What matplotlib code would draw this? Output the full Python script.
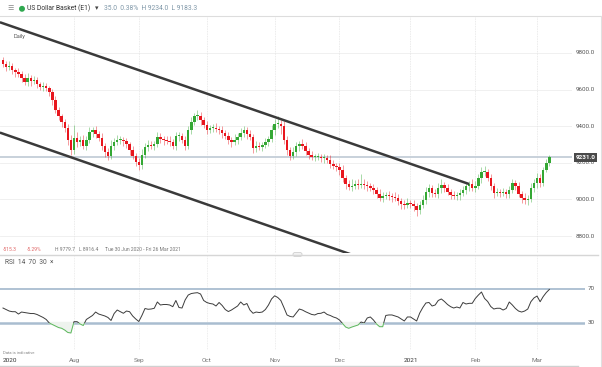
import matplotlib.pyplot as plt
import numpy as np
import pandas as pd
from matplotlib.lines import Line2D
from matplotlib.patches import Rectangle, FancyBboxPatch, Ellipse

plt.rcParams['font.family'] = ['Roboto', 'DejaVu Sans']

# --- data (daily bars from 1 Jul 2020) ---
start_date = "2020-07-01"
first_open = 9760

closes = [
    9740, 9723, 9729, 9707, 9696, 9685, 9663, 9642, 9663, 9647, 9652, 9631, 9614, 9620, 9609, 9587, 9543, 9489, 9456, 9423,
    9390, 9325, 9270, 9336, 9314, 9325, 9292, 9325, 9368, 9379, 9357, 9336, 9292, 9259, 9237, 9292, 9314, 9325, 9325, 9319,
    9303, 9270, 9237, 9204, 9188, 9243, 9286, 9297, 9292, 9303, 9341, 9330, 9325, 9319, 9314, 9292, 9346, 9346, 9325, 9292,
    9379, 9423, 9456, 9456, 9434, 9407, 9379, 9390, 9390, 9385, 9379, 9363, 9346, 9325, 9314, 9325, 9341, 9363, 9379, 9357,
    9341, 9281, 9292, 9286, 9297, 9314, 9330, 9379, 9412, 9412, 9401, 9325, 9270, 9237, 9259, 9292, 9303, 9292, 9265, 9243,
    9232, 9232, 9232, 9226, 9226, 9215, 9194, 9183, 9177, 9161, 9117, 9084, 9068, 9073, 9084, 9079, 9084, 9079, 9073, 9062,
    9051, 9030, 9008, 9019, 9024, 9019, 9013, 9008, 8991, 8975, 8969, 8980, 8975, 8964, 8942, 8969, 8997, 9040, 9062, 9035,
    9030, 9062, 9079, 9062, 9040, 9024, 9019, 9024, 9035, 9051, 9073, 9084, 9062, 9073, 9117, 9150, 9150, 9117, 9073, 9035,
    9040, 9035, 9040, 9030, 9051, 9090, 9073, 9030, 9008, 8997, 9002, 9062, 9090, 9117, 9090, 9161, 9199, 9231,
]

wick_up = [
    20, 15, 25, 15, 10, 20, 15, 20, 25, 15, 20, 15, 10, 20, 15, 10, 15, 20, 15, 10,
    15, 20, 25, 70, 30, 20, 25, 20, 30, 15, 20, 15, 25, 15, 20, 30, 20, 25, 20, 15,
    15, 10, 20, 15, 25, 35, 20, 30, 20, 15, 30, 20, 15, 20, 25, 15, 25, 20, 15, 20,
    20, 25, 15, 30, 20, 15, 20, 15, 20, 25, 15, 20, 15, 20, 15, 30, 20, 25, 20, 15,
    20, 15, 25, 20, 15, 20, 15, 25, 30, 45, 20, 25, 20, 15, 30, 20, 15, 25, 20, 15,
    20, 15, 20, 15, 20, 15, 25, 20, 15, 20, 25, 15, 20, 40, 20, 30, 55, 25, 20, 15,
    20, 15, 25, 20, 15, 20, 15, 25, 20, 15, 20, 25, 15, 20, 15, 20, 25, 30, 20, 15,
    20, 25, 30, 15, 20, 15, 20, 15, 20, 25, 20, 15, 30, 25, 20, 25, 30, 15, 20, 15,
    20, 15, 20, 15, 25, 20, 15, 20, 15, 25, 20, 25, 20, 30, 20, 15, 20, 10,
]

wick_down = [
    15, 20, 15, 20, 25, 15, 20, 15, 20, 25, 15, 20, 15, 20, 15, 20, 25, 15, 20, 25,
    20, 25, 30, 20, 25, 20, 15, 20, 15, 25, 20, 15, 20, 25, 20, 15, 20, 15, 20, 25,
    20, 25, 15, 20, 30, 20, 15, 20, 15, 20, 15, 20, 25, 15, 20, 15, 20, 25, 15, 20,
    15, 20, 15, 20, 25, 15, 20, 15, 20, 15, 20, 25, 15, 20, 30, 15, 20, 15, 20, 25,
    15, 25, 20, 15, 20, 15, 20, 15, 25, 20, 45, 20, 25, 20, 15, 20, 25, 15, 20, 20,
    15, 20, 15, 20, 25, 15, 20, 15, 20, 25, 20, 25, 15, 20, 15, 20, 15, 20, 25, 15,
    20, 25, 15, 20, 15, 20, 25, 15, 20, 25, 20, 15, 20, 25, 30, 20, 15, 20, 25, 20,
    15, 20, 25, 20, 15, 20, 15, 20, 25, 15, 20, 25, 15, 20, 15, 25, 20, 15, 20, 25,
    15, 20, 15, 20, 25, 15, 20, 15, 25, 20, 30, 15, 20, 25, 20, 15, 10, 15,
]

rsi = [
    47.3, 45.5, 43.7, 42.9, 42.9, 40.1, 42.5, 41.9, 41.3, 40.7, 40.7, 39.6, 37.8, 36.0, 33.6, 29.4, 27.6, 25.8, 24.0, 23.1,
    21.0, 18.1, 17.5, 31.0, 31.0, 28.2, 26.4, 33.6, 36.0, 38.4, 42.5, 40.1, 39.0, 37.8, 36.0, 32.4, 40.7, 44.9, 42.9, 41.0,
    43.7, 42.9, 37.8, 34.2, 31.2, 38.4, 46.7, 45.8, 46.1, 47.0, 54.5, 50.9, 51.5, 51.5, 50.9, 48.9, 56.3, 47.9, 47.3, 56.9,
    62.8, 64.6, 65.2, 65.6, 64.0, 56.3, 53.9, 52.7, 52.1, 49.7, 53.9, 50.3, 45.5, 43.1, 44.9, 47.3, 49.7, 54.5, 50.9, 52.7,
    44.9, 41.0, 42.5, 41.9, 42.5, 45.5, 50.9, 58.1, 61.9, 59.9, 56.3, 47.9, 39.0, 37.2, 36.6, 41.3, 46.1, 44.9, 42.9, 41.3,
    39.6, 39.0, 40.7, 41.0, 42.5, 39.6, 38.4, 36.6, 35.4, 33.0, 28.8, 24.6, 23.1, 24.6, 25.8, 27.0, 30.6, 29.4, 35.4, 36.6,
    33.0, 28.2, 25.0, 25.0, 38.4, 39.0, 39.0, 37.8, 36.6, 34.2, 31.8, 36.6, 36.6, 34.2, 31.8, 41.3, 47.9, 53.3, 53.9, 49.7,
    50.9, 56.3, 58.1, 55.1, 51.5, 48.9, 47.3, 48.5, 47.3, 53.9, 52.1, 52.9, 52.9, 58.7, 62.8, 66.4, 58.7, 55.1, 49.1, 46.1,
    47.0, 47.0, 44.9, 46.7, 54.5, 50.9, 46.7, 43.7, 42.5, 43.7, 46.1, 54.8, 59.3, 61.6, 54.8, 61.0, 65.8, 69.5,
]

month_labels = ["2020", "Aug", "Sep", "Oct", "Nov", "Dec", "2021", "Feb", "Mar"]
price_ticks = [9800, 9600, 9400, 9200, 9000, 8800]
last_price = 9231.0
rsi_levels = [70, 30]

upper_channel_dates = ["2020-06-30", "2021-01-28"]
upper_channel_prices = [9968, 9084]
lower_channel_dates = ["2020-06-30", "2020-12-07"]
lower_channel_prices = [9365, 8698]

header_name = "US Dollar Basket (E1)"
header_stats = "35.0  0.38%  H 9234.0  L 9183.3"

W, H = 602, 367


def fx(px):
    return px / W


def fy(py):
    return 1 - py / H


def bar_pos(date):
    return np.busday_count(start_date, date)


n = len(closes)
days = pd.bdate_range(start_date, periods=n)
x = np.arange(n)
c = np.array(closes, dtype=float)
o = np.array([first_open] + closes[:-1], dtype=float)  # open = previous close
hi = np.maximum(o, c) + np.array(wick_up)
lo = np.minimum(o, c) - np.array(wick_down)
month_pos = [0] + [i for i in range(1, n) if days[i].month != days[i - 1].month]

fig = plt.figure(figsize=(W / 100, H / 100), dpi=100)
fig.patch.set_facecolor("white")

# main price panel
ax = fig.add_axes([0, fy(253), fx(572), (253 - 16) / H])
ax.set_xlim(-0.97, -0.97 + 572 / 3.087)
ax.set_ylim(9800 - 200 * 5.464, 9800 + 37 * 5.464)
for s in ax.spines.values():
    s.set_visible(False)
ax.set_xticks([])
ax.set_yticks([])

for p in price_ticks:
    ax.axhline(p, color="#eeeeee", lw=0.6, zorder=0)
for m in month_pos[1:]:
    ax.axvline(m, color="#e4e4e4", lw=0.6, ls=(0, (1, 1)), zorder=0)

ax.axhline(last_price, color="#c4ced8", lw=1.3, zorder=1)

up = c >= o
red = "#e8161e"
green = "#34a834"
cols = np.where(up, green, red)
ax.vlines(x, lo, hi, colors=cols, lw=0.6, alpha=0.5, zorder=2)
ax.bar(x, np.maximum(np.abs(c - o), 5), bottom=np.minimum(o, c), width=0.78,
       color=cols, edgecolor="none", zorder=3)

ax.plot([bar_pos(d) for d in upper_channel_dates], upper_channel_prices,
        color="#3a3a3a", lw=1.8, solid_capstyle="butt", zorder=4)
ax.plot([bar_pos(d) for d in lower_channel_dates], lower_channel_prices,
        color="#3a3a3a", lw=1.8, solid_capstyle="butt", zorder=4)

ytr = ax.get_yaxis_transform()
for p in price_ticks:
    ax.text(1.007, p, f"{p:.1f}", transform=ytr, ha="left", va="center",
            fontsize=4.5, color="#555555", clip_on=False)
ax.text(1.0235, last_price, f"{last_price:.1f}", transform=ytr, ha="center", va="center",
        fontsize=4.6, color="white", fontweight="bold", clip_on=False, zorder=10,
        bbox=dict(boxstyle="square,pad=0.3", fc="#4a4a4a", ec="none"))

ax.text(fx(13) / fx(572), fy(31), "Daily", transform=ax.transAxes, fontsize=4,
        color="#555555", va="center", ha="left", zorder=6,
        bbox=dict(boxstyle="square,pad=0.15", fc="white", ec="none"))

# RSI panel
ax2 = fig.add_axes([0, fy(350), fx(585), (350 - 256) / H])
ax2.set_xlim(-0.97, -0.97 + 585 / 3.087)
ax2.set_ylim(30 - 27.5 * 1.194, 30 + 66.5 * 1.194)
for s in ax2.spines.values():
    s.set_visible(False)
ax2.set_xticks([])
ax2.set_yticks([])
for m in month_pos[1:]:
    ax2.axvline(m, color="#e8e8e8", lw=0.6, ls=(0, (1, 1)), zorder=0)
ax2.axhline(rsi_levels[0], color="#a9bdd0", lw=1.3, zorder=1)
ax2.axhline(rsi_levels[1], color="#a9bdd0", lw=1.8, zorder=1)

r = np.array(rsi)
ax2.fill_between(x, r, rsi_levels[1], where=r < rsi_levels[1], interpolate=True,
                 color="#eef3ee", zorder=1.5)
line_hi, = ax2.plot(x, r, color="#3c3c3c", lw=0.7, zorder=3)
line_lo, = ax2.plot(x, r, color="#5cb85c", lw=0.7, zorder=3)
clip_hi = Rectangle((-5, rsi_levels[1]), 300, 200, transform=ax2.transData)
clip_lo = Rectangle((-5, rsi_levels[1] - 200), 300, 200, transform=ax2.transData)
line_hi.set_clip_path(clip_hi)
line_lo.set_clip_path(clip_lo)

ytr2 = ax2.get_yaxis_transform()
for lvl in rsi_levels:
    ax2.text(1.004, lvl, str(lvl), transform=ytr2, ha="left", va="center",
             fontsize=4.5, color="#555555", clip_on=False)

# month labels under the RSI panel
for pos, lab in zip(month_pos, month_labels):
    bold = lab.isdigit()
    xp = 3 + 3.087 * pos
    fig.text(fx(xp + 7 if pos == 0 else xp), fy(360.5), lab, ha="center", va="center",
             fontsize=4.6, color="#333333" if bold else "#777777")

# header and small texts
fig.add_artist(Line2D([0, 1], [fy(16), fy(16)], color="#dddddd", lw=0.8))
fig.text(fx(10), fy(8.5), "\u2630", fontsize=5, color="#888888", ha="center", va="center")
fig.add_artist(Ellipse((fx(22), fy(8.8)), 4.5 / W, 4.5 / H, color="#2fa84f",
                       transform=fig.transFigure))
fig.text(fx(27), fy(8.5), header_name, fontsize=4.9, color="#333333", ha="left", va="center")
fig.text(fx(97), fy(8.8), "\u25be", fontsize=5, color="#444444", ha="center", va="center")
fig.text(fx(104), fy(8.5), header_stats, fontsize=4.9, color="#7f97a8", ha="left", va="center")

fig.text(fx(3), fy(249.5), "-515.3", fontsize=3.6, color="#e06666", va="center")
fig.text(fx(27), fy(249.5), "-5.29%", fontsize=3.6, color="#e06666", va="center")
fig.text(fx(55), fy(249.5), "H 9779.7", fontsize=3.6, color="#777777", va="center")
fig.text(fx(79), fy(249.5), "L 8916.4", fontsize=3.6, color="#777777", va="center")
fig.text(fx(105), fy(249.5), "Tue 30 Jun 2020 - Fri 26 Mar 2021", fontsize=3.6,
         color="#777777", va="center")

fig.add_artist(Line2D([0, fx(598)], [fy(254.5), fy(254.5)], color="#d6d6d6", lw=1.0))
fig.add_artist(FancyBboxPatch((fx(293), fy(256.5)), fx(9), 4 / H,
                              boxstyle="round,pad=0,rounding_size=0.004",
                              fc="#f2f2f2", ec="#c8c8c8", lw=0.5, transform=fig.transFigure))

fig.text(fx(5), fy(263), "RSI  14  70  30  \u00d7", fontsize=4.8, color="#555555", va="center")
fig.text(fx(3), fy(353.5), "Data is indicative", fontsize=3, color="#888888", va="center")

fig.add_artist(Line2D([0, fx(578)], [fy(366), fy(366)], color="#d0d0d0", lw=1.0))
fig.add_artist(Line2D([fx(600.5), fx(600.5)], [fy(16), fy(367)], color="#e0e0e0", lw=0.8))

fig.savefig("out.png", dpi=100, facecolor="white")
